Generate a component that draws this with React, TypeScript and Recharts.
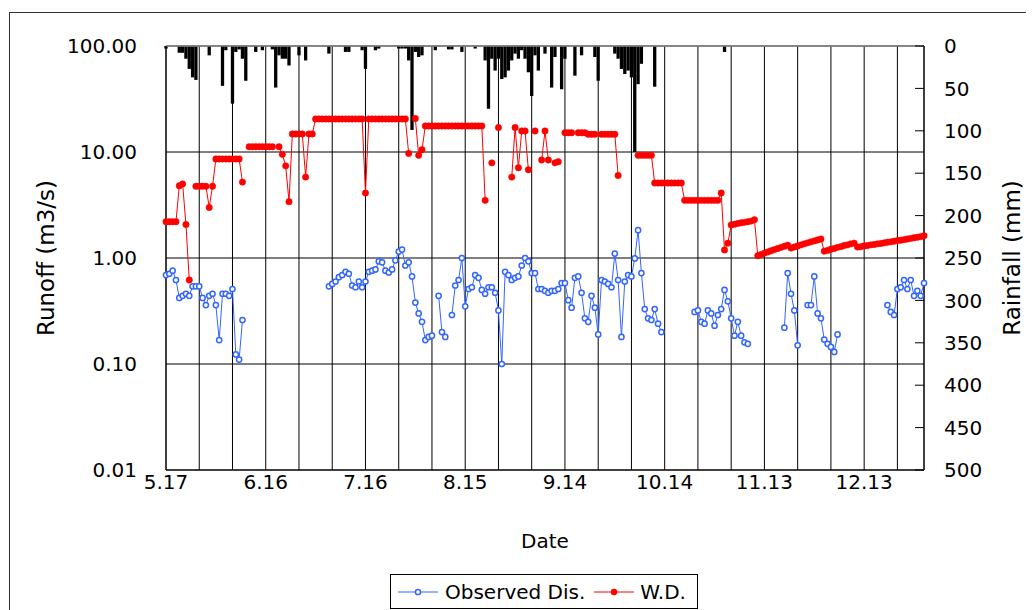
import React from 'react';
import { ComposedChart, Line, Bar, XAxis, YAxis, CartesianGrid, ReferenceLine } from 'recharts';

// day index 0 = 5.17, one entry per day through 12.31
const tickDays = [0, 30, 60, 90, 120, 150, 180, 210];
const tickLabels = ['5.17', '6.16', '7.16', '8.15', '9.14', '10.14', '11.13', '12.13'];
const gridDays = [0, 10, 20, 30, 40, 50, 60, 70, 80, 90, 100, 110, 120, 130, 140, 150, 160, 170, 180, 190, 200, 210, 220];
const runoffTicks = [0.01, 0.1, 1, 10, 100];
const rainTicks = [0, 50, 100, 150, 200, 250, 300, 350, 400, 450, 500];

const observed = [
  0.69, 0.71, 0.76, 0.62, 0.42, 0.44, 0.46, 0.44, 0.54, 0.54,
  0.54, 0.42, 0.36, 0.44, 0.46, 0.36, 0.168, 0.46, 0.46, 0.44,
  0.51, 0.123, 0.11, 0.26, null, null, null, null, null, null,
  null, null, null, null, null, null, null, null, null, null,
  null, null, null, null, null, null, null, null, null, 0.54,
  0.57, 0.6, 0.66, 0.69, 0.74, 0.71, 0.55, 0.53, 0.6, 0.53,
  0.6, 0.74, 0.76, 0.78, 0.93, 0.91, 0.76, 0.73, 0.78, 0.95,
  1.15, 1.2, 0.85, 0.91, 0.67, 0.38, 0.3, 0.25, 0.168, 0.18,
  0.185, null, 0.44, 0.2, 0.18, null, 0.29, 0.55, 0.62, 1.0,
  0.35, 0.51, 0.53, 0.69, 0.65, 0.5, 0.46, 0.53, 0.53, 0.47,
  0.32, 0.1, 0.74, 0.69, 0.62, 0.65, 0.67, 0.85, 1.0, 0.93,
  0.72, 0.72, 0.51, 0.51, 0.49, 0.47, 0.49, 0.49, 0.51, 0.58,
  0.58, 0.4, 0.34, 0.65, 0.67, 0.47, 0.27, 0.25, 0.44, 0.34,
  0.19, 0.62, 0.6, 0.57, 0.53, 1.1, 0.62, 0.18, 0.6, 0.69,
  0.67, 0.99, 1.83, 0.72, 0.33, 0.27, 0.26, 0.33, 0.24, 0.2,
  null, null, null, null, null, null, null, null, null, 0.31,
  0.32, 0.25, 0.24, 0.32, 0.3, 0.23, 0.29, 0.33, 0.5, 0.39,
  0.27, 0.185, 0.25, 0.185, 0.16, 0.155, null, null, null, null,
  null, null, null, null, null, null, 0.22, 0.72, 0.46, 0.32,
  0.15, null, null, 0.36, 0.36, 0.67, 0.3, 0.27, 0.17, 0.155,
  0.145, 0.13, 0.19, null, null, null, null, null, null, null,
  null, null, null, null, null, null, null, 0.36, 0.31, 0.29,
  0.51, 0.53, 0.62, 0.51, 0.62, 0.44, 0.49, 0.44, 0.58,
];

const wd = [
  2.2, 2.2, 2.2, 2.2, 4.8, 5.0, 2.07, 0.62, null, 4.75,
  4.75, 4.75, 4.75, 3.0, 4.75, 8.6, 8.6, 8.6, 8.6, 8.6,
  8.6, 8.6, 8.6, 5.2, null, 11.2, 11.2, 11.2, 11.2, 11.2,
  11.2, 11.2, 11.2, null, 11.2, 9.5, 7.4, 3.4, 14.8, 14.8,
  14.8, 14.8, 5.8, 14.8, 14.8, 20.5, 20.5, 20.5, 20.5, 20.5,
  20.5, 20.5, 20.5, 20.5, 20.5, 20.5, 20.5, 20.5, 20.5, 20.5,
  4.1, 20.5, 20.5, 20.5, 20.5, 20.5, 20.5, 20.5, 20.5, 20.5,
  20.5, 20.5, 20.5, 9.7, null, 20.7, 9.3, 10.5, 17.6, 17.6,
  17.6, 17.6, 17.6, 17.6, 17.6, 17.6, 17.6, 17.6, 17.6, 17.6,
  17.6, 17.6, 17.6, 17.6, 17.6, 17.6, 3.5, null, 7.9, null,
  17, null, null, null, 5.8, 17, 7.1, 15.8, 15.8, 6.8,
  null, 15.8, null, 8.4, 15.8, 8.4, null, 7.9, 8.1, null,
  15.2, 15.2, 15.2, null, 15.2, 15.2, 15.2, 14.7, 14.7, 14.7,
  null, 14.7, 14.7, 14.7, 14.7, 14.7, 6.0, null, null, null,
  null, null, 9.3, 9.3, 9.3, 9.3, 9.3, 5.1, 5.1, 5.1,
  5.1, 5.1, 5.1, 5.1, 5.1, 5.1, 3.5, 3.5, 3.5, 3.5,
  3.5, 3.5, 3.5, 3.5, 3.5, 3.5, 3.5, 4.1, 1.19, 1.38,
  2.05, 2.08, 2.12, 2.15, 2.17, 2.2, 2.23, 2.3, 1.05, 1.08,
  1.11, 1.14, 1.17, 1.2, 1.23, 1.26, 1.29, 1.32, 1.24, 1.27,
  1.3, 1.33, 1.36, 1.39, 1.42, 1.45, 1.48, 1.51, 1.16, 1.18,
  1.21, 1.23, 1.26, 1.28, 1.31, 1.33, 1.36, 1.38, 1.27, 1.28,
  1.3, 1.31, 1.33, 1.34, 1.36, 1.37, 1.39, 1.41, 1.42, 1.44,
  1.46, 1.47, 1.49, 1.51, 1.53, 1.55, 1.57, 1.59, 1.62,
];

const rainfall = [
  3, 0, 0, 0, 8, 8, 15, 27, 37, 40,
  0, 0, 0, 11, 0, 0, 0, 47, 5, 0,
  68, 7, 4, 15, 41, 0, 0, 7, 0, 5,
  0, 0, 4, 49, 11, 15, 15, 23, 0, 0,
  11, 0, 17, 0, 0, 0, 0, 0, 0, 9,
  0, 0, 0, 0, 7, 7, 0, 0, 0, 5,
  27, 0, 0, 5, 3, 0, 0, 0, 0, 0,
  3, 3, 3, 17, 99, 7, 13, 11, 0, 0,
  0, 5, 0, 0, 0, 4, 4, 0, 0, 7,
  0, 0, 0, 3, 0, 0, 17, 74, 15, 29,
  15, 39, 37, 29, 17, 9, 15, 5, 15, 31,
  59, 11, 29, 0, 9, 0, 49, 13, 0, 51,
  15, 0, 0, 35, 0, 11, 0, 0, 0, 13,
  41, 0, 0, 0, 0, 9, 15, 27, 33, 29,
  37, 125, 45, 21, 0, 0, 0, 48, 0, 0,
  0, 0, 0, 0, 0, 0, 0, 0, 0, 0,
  0, 0, 0, 0, 0, 0, 0, 0, 7, 0,
  0, 0, 0, 0, 0, 0, 0, 0, 0, 0,
  0, 0, 0, 0, 0, 0, 0, 0, 0, 0,
  0, 0, 0, 0, 0, 0, 0, 0, 0, 0,
  0, 0, 0, 0, 0, 0, 0, 0, 0, 0,
  0, 0, 0, 0, 0, 0, 0, 0, 0, 0,
  0, 0, 0, 0, 0, 0, 0, 0, 0,
];

const data = observed.map((v, i) => ({ day: i, observed: v, wd: wd[i], rain: rainfall[i] }));

const FONT = 'DejaVu Sans';
const BLUE = '#3366ff';
const RED = '#ff0000';

const dayLabel = (d: number) => {
  const i = tickDays.indexOf(d);
  return i >= 0 ? tickLabels[i] : '';
};

// right axis: short inward tick plus left-aligned label
function RainTick(props: any) {
  const { x, y, payload } = props;
  return (
    <g>
      <line x1={x - 29} x2={x - 20} y1={y} y2={y} stroke="#000" />
      <text x={x} y={y} dy="0.36em" textAnchor="start" fill="#000" fontSize={20} fontFamily={FONT}>
        {payload.value}
      </text>
    </g>
  );
}

export default function App() {
  return (
    <div style={{ position: 'relative', width: 1026, height: 602, overflow: 'hidden', background: '#fff' }}>
      <div
        style={{
          position: 'absolute', left: 1, top: 4, width: 1100, height: 700,
          borderLeft: '1px solid #333', borderTop: '1px solid #333',
        }}
      />
      <div style={{ position: 'absolute', left: 0, top: 0 }}>
        <ComposedChart width={1026} height={602} data={data} margin={{ top: 38, right: 0, bottom: 0, left: 0 }}>
          <CartesianGrid yAxisId="left" stroke="#000" strokeWidth={1} />
          <XAxis
            dataKey="day"
            type="number"
            domain={[0, 228]}
            ticks={gridDays}
            interval={0}
            tickFormatter={dayLabel}
            height={140}
            tickLine={false}
            tickSize={0}
            tickMargin={5}
            axisLine={{ stroke: '#000' }}
            tick={{ fill: '#000', fontSize: 20, fontFamily: FONT }}
            label={{ value: 'Date', position: 'insideBottom', offset: 62, fill: '#000', fontSize: 20, fontFamily: FONT }}
          />
          <YAxis
            yAxisId="left"
            scale="log"
            domain={[0.01, 100]}
            allowDataOverflow
            ticks={runoffTicks}
            tickFormatter={(v: number) => v.toFixed(2)}
            width={158}
            tickLine={false}
            tickSize={0}
            tickMargin={29}
            axisLine={{ stroke: '#000' }}
            tick={{ fill: '#000', fontSize: 20, fontFamily: FONT }}
            label={{
              value: 'Runoff (m3/s)', angle: -90, position: 'insideLeft', offset: 38,
              style: { textAnchor: 'middle' }, fill: '#000', fontSize: 23, fontFamily: FONT,
            }}
          />
          <YAxis
            yAxisId="right"
            orientation="right"
            domain={[0, 500]}
            reversed
            ticks={rainTicks}
            width={110}
            tickLine={false}
            tickSize={0}
            tickMargin={20}
            axisLine={{ stroke: '#000' }}
            tick={<RainTick />}
            label={{
              value: 'Rainfall (mm)', angle: -90, position: 'insideRight', offset: 22,
              style: { textAnchor: 'middle' }, fill: '#000', fontSize: 23, fontFamily: FONT,
            }}
          />
          <ReferenceLine yAxisId="left" y={100} stroke="#888" strokeWidth={1.5} />
          <Bar yAxisId="right" dataKey="rain" fill="#000" barSize={3.3} isAnimationActive={false} />
          <Line
            yAxisId="left"
            dataKey="observed"
            stroke={BLUE}
            strokeWidth={1}
            dot={{ r: 2.6, stroke: BLUE, strokeWidth: 1.5, fill: '#fff' }}
            activeDot={false}
            isAnimationActive={false}
          />
          <Line
            yAxisId="left"
            dataKey="wd"
            stroke={RED}
            strokeWidth={1}
            dot={{ r: 3.2, stroke: RED, strokeWidth: 0.5, fill: RED }}
            activeDot={false}
            isAnimationActive={false}
          />
        </ComposedChart>
      </div>
      <div
        style={{
          position: 'absolute', left: 382, top: 566, width: 306, height: 33,
          border: '1px solid #000', background: '#fff', display: 'flex', alignItems: 'center',
          fontFamily: FONT, fontSize: 20, color: '#000', whiteSpace: 'nowrap',
        }}
      >
        <svg width={40} height={10} style={{ marginLeft: 7 }}>
          <line x1={0} x2={40} y1={5} y2={5} stroke={BLUE} />
          <circle cx={20} cy={5} r={2.6} fill="#fff" stroke={BLUE} strokeWidth={1.5} />
        </svg>
        <span style={{ marginLeft: 7 }}>Observed Dis.</span>
        <svg width={40} height={10} style={{ marginLeft: 9 }}>
          <line x1={0} x2={40} y1={5} y2={5} stroke={RED} />
          <circle cx={20} cy={5} r={3.2} fill={RED} />
        </svg>
        <span style={{ marginLeft: 6 }}>W.D.</span>
      </div>
    </div>
  );
}
